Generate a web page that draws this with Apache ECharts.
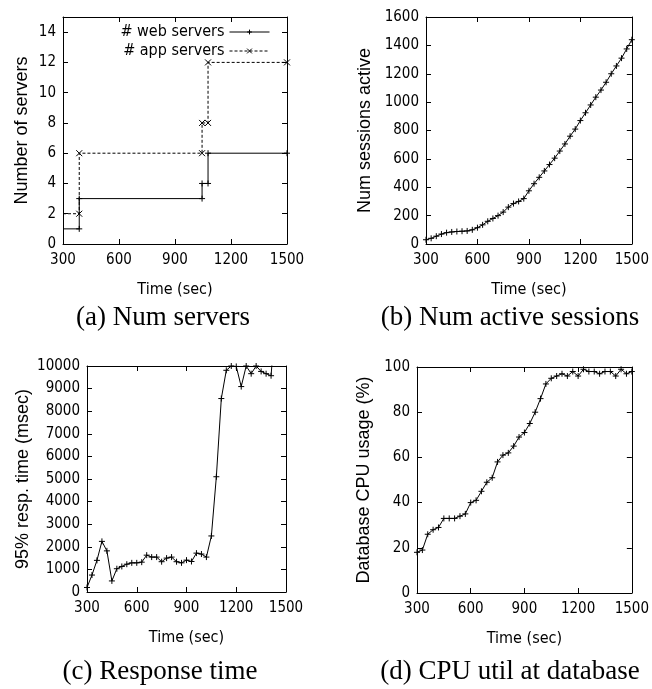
<!DOCTYPE html>
<html><head><meta charset="utf-8">
<script src="https://cdn.jsdelivr.net/npm/echarts@6/dist/echarts.min.js"></script>
<style>html,body{margin:0;padding:0;background:#fff}#c{width:652px;height:689px}</style>
</head><body><div id="c"></div>
<script>
// ---- Data ----
const webTimes = [300, 387, 387, 1045, 1045, 1077, 1077, 1500];
const webCounts = [1, 1, 3, 3, 4, 4, 6, 6];
const appTimes = [300, 387, 387, 1045, 1045, 1077, 1077, 1500];
const appCounts = [2, 2, 6, 6, 8, 8, 12, 12];
const sampleTimes = [300,330,360,390,420,450,480,510,540,570,600,630,660,690,720,750,780,810,840,870,900,930,960,990,1020,1050,1080,1110,1140,1170,1200,1230,1260,1290,1320,1350,1380,1410,1440,1470,1500];
const sessions = [30,40,55,70,80,85,88,90,92,100,115,135,160,180,200,225,260,285,300,320,375,425,470,515,560,605,655,705,760,810,870,925,980,1035,1085,1140,1200,1255,1310,1375,1440];
const respTimes = [300,330,360,390,420,450,480,510,540,570,600,630,660,690,720,750,780,810,840,870,900,930,960,990,1020,1050,1080,1110,1140,1170,1200,1230,1260,1290,1320,1350,1380,1410,1440];
const respMs = [200,750,1400,2240,1820,490,1030,1130,1230,1290,1290,1320,1630,1545,1545,1340,1500,1545,1340,1290,1410,1350,1720,1680,1545,2480,5100,8560,9810,10000,9980,9090,10000,9660,10000,9760,9660,9570,12500];
const cpuUtil = [18,19,26,28,29,33,33,33,34,35,40,41,45,49,51,58,61,62,65,69,71,75,80,86,92.5,95,96,97,96,98,96,99,98,98,97,98,98,96,99,97,98];

const xTicks = {min: 300, max: 1500, interval: 300};
const captions = ['(a) Num servers', '(b) Num active sessions', '(c) Response time', '(d) CPU util at database'];

// ---- Chart ----
const NARROW = "'Liberation Sans Narrow', 'DejaVu Sans Condensed', 'Liberation Sans', sans-serif";
const SANS = "'Liberation Sans', Arial, sans-serif";
const PLUS = 'path://M5,0L5,10M0,5L10,5';
const CROSS = 'path://M0,0L10,10M10,0L0,10';

const panels = [
  {grid: {left: 63, top: 17, width: 224, height: 227}, y: {min: 0, max: 15, interval: 2}, yName: 'Number of servers', yGap: 32},
  {grid: {left: 426, top: 17, width: 206, height: 227}, y: {min: 0, max: 1600, interval: 200}, yName: 'Num sessions active', yGap: 52},
  {grid: {left: 87, top: 366, width: 199, height: 226}, y: {min: 0, max: 10000, interval: 1000}, yName: '95% resp. time (msec)', yGap: 55},
  {grid: {left: 417, top: 367, width: 215, height: 226}, y: {min: 0, max: 100, interval: 20}, yName: 'Database CPU usage (%)', yGap: 44}
];

const axisLine = {show: true, onZero: false, lineStyle: {color: '#000', width: 1}};
const tick = {show: true, inside: true, length: 5, lineStyle: {color: '#000', width: 1}};
const lbl = {color: '#000', fontFamily: NARROW, fontSize: 15, formatter: v => String(v)};

const grid = [], xAxis = [], yAxis = [];
panels.forEach((p, i) => {
  grid.push(Object.assign({containLabel: false}, p.grid));
  xAxis.push({type: 'value', gridIndex: i, position: 'bottom', min: xTicks.min, max: xTicks.max, interval: xTicks.interval,
    axisLine, axisTick: tick, splitLine: {show: false}, axisLabel: Object.assign({margin: 9}, lbl),
    name: 'Time (sec)', nameLocation: 'middle', nameGap: 38, nameTextStyle: {color: '#000', fontFamily: NARROW, fontSize: 16}});
  xAxis.push({type: 'value', gridIndex: i, position: 'top', min: xTicks.min, max: xTicks.max, interval: xTicks.interval,
    axisLine, axisTick: tick, splitLine: {show: false}, axisLabel: {show: false}});
  yAxis.push({type: 'value', gridIndex: i, position: 'left', min: p.y.min, max: p.y.max, interval: p.y.interval,
    axisLine, axisTick: tick, splitLine: {show: false}, axisLabel: Object.assign({margin: 7, showMaxLabel: p.y.max % p.y.interval === 0}, lbl),
    name: p.yName, nameLocation: 'middle', nameGap: p.yGap, nameRotate: 90,
    nameTextStyle: {color: '#000', fontFamily: SANS, fontSize: 18}});
  yAxis.push({type: 'value', gridIndex: i, position: 'right', min: p.y.min, max: p.y.max, interval: p.y.interval,
    axisLine, axisTick: tick, splitLine: {show: false}, axisLabel: {show: false}});
});

const points = (xs, ys, hideFirst) => xs.map((x, i) => (hideFirst && i === 0) ? {value: [x, ys[i]], symbol: 'none'} : [x, ys[i]]);

const lineBase = (i, name, data, symbol, dashed) => ({
  type: 'line', name, xAxisIndex: 2 * i, yAxisIndex: 2 * i, data,
  symbol, symbolSize: 6, showAllSymbol: true, clip: true, animation: false,
  lineStyle: {color: '#000', width: 1, type: dashed ? [3, 2] : 'solid'},
  itemStyle: {color: '#000', borderColor: '#000', borderWidth: 1}
});

const series = [
  lineBase(0, '# web servers', points(webTimes, webCounts, true), PLUS, false),
  lineBase(0, '# app servers', points(appTimes, appCounts, true), CROSS, true),
  lineBase(1, 'sessions', points(sampleTimes, sessions), PLUS, false),
  lineBase(2, 'resp', points(respTimes, respMs), PLUS, false),
  lineBase(3, 'cpu', points(sampleTimes, cpuUtil), PLUS, false)
];

const capPos = [[163, 318], [510, 318], [160, 672], [510, 672]];
const graphic = captions.map((t, i) => ({
  type: 'text', x: capPos[i][0], y: capPos[i][1],
  style: {text: t, fill: '#000', font: "27px 'Liberation Serif', 'Times New Roman', serif", align: 'center', verticalAlign: 'middle'}
}));

const chart = echarts.init(document.getElementById('c'), null, {renderer: 'canvas'});
chart.setOption({
  animation: false,
  backgroundColor: '#fff',
  grid, xAxis, yAxis, series, graphic,
  legend: {
    data: ['# web servers', '# app servers'], orient: 'vertical', align: 'right',
    right: 382, top: 24, itemWidth: 40, itemHeight: 6, itemGap: 3, padding: 0,
    lineStyle: {width: 1}, itemStyle: {borderWidth: 1},
    textStyle: {color: '#000', fontFamily: NARROW, fontSize: 16, lineHeight: 16}
  }
});
</script>
</body></html>
